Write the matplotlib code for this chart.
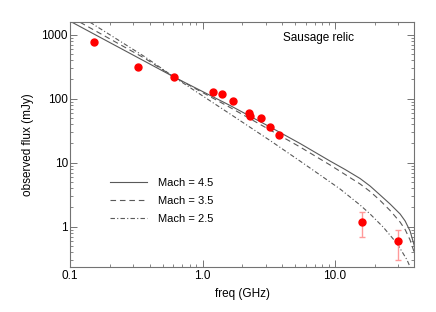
import matplotlib
matplotlib.use("Agg")
import matplotlib.pyplot as plt
from matplotlib.ticker import FixedLocator, FixedFormatter, LogLocator, NullFormatter

plt.rcParams['font.family'] = ['Liberation Sans', 'DejaVu Sans']

# observed relic flux
freq = [0.153, 0.325, 0.608, 1.2, 1.4, 1.7, 2.25, 2.3, 2.75, 3.25, 3.75, 16.0, 30.0]
flux = [776, 316, 218, 126, 117, 91, 60, 54, 50, 36, 27, 1.18, 0.6]
flux_err = [0, 0, 0, 0, 0, 0, 0, 0, 0, 0, 0, 0.5, 0.3]

# model spectra
m45_freq = [0.1035, 0.609, 1.613, 3.232, 5.44, 9.17, 11.90, 15.44, 18.37, 21.86,
            26.01, 30.95, 33.76, 36.81, 39.47, 41.58]
m45_flux = [1563, 218, 78.3, 36.1, 19.95, 10.6, 7.83, 5.66, 4.32, 3.13,
            2.26, 1.58, 1.23, 0.857, 0.518, 0.302]
m35_freq = [0.119, 0.368, 0.609, 1.613, 3.232, 5.44, 9.17, 11.90, 15.44, 18.37,
            21.86, 26.01, 30.95, 33.76, 36.81, 39.47, 41.58]
m35_flux = [1563, 425, 218, 72.9, 32.4, 17.6, 9.20, 6.54, 4.65, 3.55,
            2.57, 1.79, 1.18, 0.904, 0.62, 0.403, 0.252]
m25_freq = [0.1416, 0.368, 0.609, 1.613, 3.232, 5.44, 7.70, 10.91, 15.44, 18.37,
            23.03, 29.37, 34.94, 38.79]
m25_flux = [1563, 449, 218, 57.7, 22.2, 10.6, 6.43, 3.88, 2.18, 1.58,
            0.989, 0.546, 0.302, 0.182]

fig = plt.figure(figsize=(4.36, 3.12), dpi=100)
ax = fig.add_axes([0.1606, 0.1452, 0.7889, 0.7833])

lc = '0.35'
ax.plot(m45_freq, m45_flux, color=lc, lw=0.8, ls='-', label='Mach = 4.5')
ax.plot(m35_freq, m35_flux, color=lc, lw=0.8, ls=(0, (5, 3.5)), label='Mach = 3.5')
ax.plot(m25_freq, m25_flux, color=lc, lw=0.8, ls=(0, (4, 2, 1, 2)), label='Mach = 2.5')

ax.errorbar(freq, flux, yerr=flux_err, fmt='o', color='red', ms=5,
            ecolor='#ff9a9a', elinewidth=1, capsize=2.5, capthick=1)

ax.set_xscale('log')
ax.set_yscale('log')
ax.set_xlim(0.1, 39.4)
ax.set_ylim(0.237, 1560)

ax.xaxis.set_major_locator(FixedLocator([0.1, 1.0, 10.0]))
ax.xaxis.set_major_formatter(FixedFormatter(['0.1', '1.0', '10.0']))
ax.yaxis.set_major_locator(FixedLocator([1, 10, 100, 1000]))
ax.yaxis.set_major_formatter(FixedFormatter(['1', '10', '100', '1000']))
for a in (ax.xaxis, ax.yaxis):
    a.set_minor_locator(LogLocator(base=10, subs=range(2, 10), numticks=20))
    a.set_minor_formatter(NullFormatter())

ax.tick_params(which='both', direction='in', top=True, right=True, color='0.45',
               labelsize=8.5)
ax.tick_params(axis='x', which='major', pad=2.5)
ax.tick_params(axis='y', which='major', pad=1.5)
ax.tick_params(which='major', length=5, width=0.7)
ax.tick_params(which='minor', length=2.5, width=0.6)
for s in ax.spines.values():
    s.set_color('0.45')
    s.set_linewidth(0.8)

ax.set_xlabel('freq (GHz)', fontsize=8.5, labelpad=4)
ax.set_ylabel('observed flux (mJy)', fontsize=8.5, labelpad=5)

ax.text(0.618, 0.935, 'Sausage relic', transform=ax.transAxes, fontsize=8.5,
        ha='left', va='center')

ax.legend(loc='upper left', bbox_to_anchor=(0.116, 0.364), frameon=False,
          fontsize=8, handlelength=3.3, handletextpad=1.05, labelspacing=0.72,
          borderpad=0, borderaxespad=0)

fig.savefig('out.png', dpi=100)
